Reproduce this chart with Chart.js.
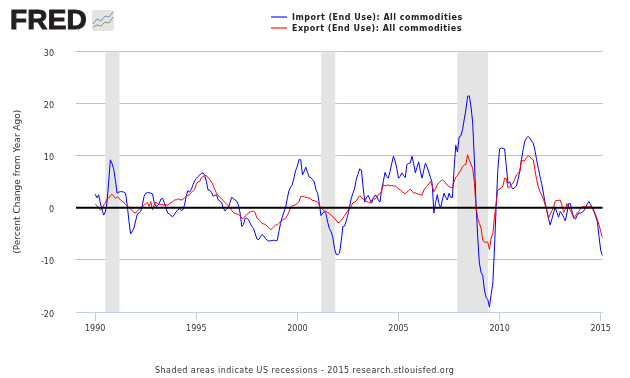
<!DOCTYPE html>
<html>
<head>
<meta charset="utf-8">
<title>FRED</title>
<script src="https://cdn.jsdelivr.net/npm/chart.js@4/dist/chart.umd.min.js"></script>
<style>
html,body{margin:0;padding:0;background:#fff}
#wrap{position:relative;width:630px;height:378px;overflow:hidden}
#logo{position:absolute;left:10px;top:3px;font:bold 28px/34px "Liberation Sans";color:#231f20;letter-spacing:.2px;-webkit-text-stroke:1px #231f20}
#icon{position:absolute;left:92px;top:10px}
#legend{position:absolute;left:271px;top:12px;font:bold 8px/11px "DejaVu Sans";color:#222;letter-spacing:.48px}
#legend div{height:11px;white-space:nowrap}
#legend i{display:inline-block;width:16px;height:2px;margin-right:5px;vertical-align:2px}
#foot{position:absolute;left:155px;top:365px;font:8px/12px "DejaVu Sans";color:#333;letter-spacing:.45px;white-space:nowrap}
</style>
</head>
<body>
<div id="wrap">
<canvas id="chart" width="630" height="378"></canvas>
<div id="logo">FRED</div>
<svg id="icon" width="22" height="21"><rect width="22" height="21" rx="2" fill="#e4e4e4"/><polyline points="1,14 5,9 9,11 13,6 17,7 21,2" fill="none" stroke="#6f9ab5" stroke-width="1"/><polyline points="1,17 5,15 9,16 13,12 17,13 21,7" fill="none" stroke="#7ea05a" stroke-width="1"/></svg>
<div id="legend"></div>
<div id="foot">Shaded areas indicate US recessions - 2015 research.stlouisfed.org</div>
</div>
<script>
// monthly, starts jan 1990
var importVals = [
2.6,1.9,2.5,1.0,-0.3,-1.4,-0.8,1.0,5.0,9.2,8.5,7.4,
5.2,2.8,3.0,3.1,3.1,3.0,2.8,0.5,-2.5,-5.0,-4.5,-3.9,
-2.5,-1.2,-1.0,-0.7,0.5,2.2,2.8,2.9,2.9,2.8,2.7,1.0,
0.3,0.4,0.8,1.7,1.8,1.0,0.0,-1.0,-1.2,-1.5,-1.7,-1.3,
-0.8,-0.4,-0.2,-0.5,-0.4,0.5,2.2,3.3,3.0,3.5,4.4,5.2,
5.6,6.0,6.3,6.6,6.7,6.2,5.0,3.4,3.4,3.0,2.2,2.4,
2.5,1.5,1.3,1.0,0.0,-0.6,-0.3,0.0,1.0,2.0,1.8,1.5,
1.3,0.5,-1.0,-3.6,-3.2,-2.0,-2.0,-2.3,-3.0,-3.6,-4.0,-5.0,
-6.0,-6.1,-5.6,-5.1,-5.4,-5.9,-6.2,-6.4,-6.3,-6.3,-6.2,-6.3,
-6.3,-4.6,-3.0,-1.8,-0.8,0.0,1.8,3.3,4.0,4.4,5.8,7.2,
8.0,9.3,9.2,6.3,7.0,7.8,6.8,5.9,5.8,5.4,5.0,3.5,
2.8,0.8,-1.5,-1.0,-0.7,-1.2,-2.8,-4.0,-4.6,-5.6,-7.8,-8.9,
-9.0,-8.7,-6.4,-3.6,-3.5,-2.5,-1.3,0.2,1.9,2.8,3.8,5.5,
6.5,7.5,7.2,4.0,1.1,2.0,2.4,1.6,0.9,1.8,2.4,2.3,
1.5,1.1,3.5,5.0,6.8,6.0,5.7,7.0,8.5,9.9,9.0,7.5,
5.7,6.0,6.7,6.2,5.8,8.3,8.5,8.6,9.9,8.5,6.7,7.8,
8.8,7.0,5.7,7.2,8.6,7.8,6.8,5.8,4.7,-1.0,1.0,2.5,
0.8,0.0,1.5,2.8,2.0,1.5,2.8,2.0,2.0,7.5,12.0,10.7,
13.6,13.8,15.0,16.9,18.8,21.4,21.5,19.5,16.5,9.5,1.0,-5.5,
-10.6,-12.4,-13.0,-15.8,-17.2,-17.6,-19.1,-16.5,-14.5,-7.5,0.5,7.5,
11.3,11.5,11.4,11.3,8.0,4.7,5.0,4.0,3.6,3.9,4.2,5.5,
7.0,9.3,11.2,12.8,13.4,13.7,13.4,12.8,12.4,11.0,9.2,7.6,
6.0,4.6,2.8,1.0,-0.4,-2.0,-3.3,-2.2,-1.0,0.0,-0.9,-1.8,
-0.7,-1.2,-1.8,-2.5,-1.0,0.8,0.8,-0.8,-1.8,-2.2,-1.5,-1.0,
-1.0,-0.9,-0.5,0.0,0.7,1.2,0.7,0.0,-0.7,-1.6,-2.6,-5.5,
-8.1,-9.2];
var exportVals = [
0.7,0.4,0.0,-0.4,-0.3,0.5,0.9,1.7,1.9,2.3,2.6,2.2,
1.8,2.1,1.9,1.5,1.3,1.0,0.6,0.4,0.1,-0.2,-0.6,-0.9,
-1.0,-0.6,-0.3,0.0,0.2,0.6,0.8,1.0,0.3,1.2,-0.4,0.5,
1.1,0.8,0.7,0.6,0.6,0.5,0.6,0.5,0.8,1.0,1.2,1.5,
1.5,1.7,1.6,1.5,1.6,1.9,2.2,2.4,2.5,2.9,3.3,3.5,
4.5,5.0,5.0,5.8,6.0,6.2,6.2,5.8,5.4,5.0,4.3,3.5,
2.8,2.4,2.0,1.7,1.4,1.0,0.7,0.4,0.0,-0.5,-0.9,-1.1,
-1.2,-1.3,-1.5,-2.0,-2.0,-1.6,-1.3,-1.0,-0.8,-0.7,-0.6,-1.0,
-2.0,-2.2,-2.6,-3.0,-3.1,-3.2,-3.5,-3.8,-4.2,-4.0,-3.6,-3.3,
-3.3,-3.0,-2.6,-2.4,-2.2,-2.0,-1.5,-0.8,0.0,0.4,0.5,0.6,
0.9,1.2,2.2,2.2,2.1,2.0,1.9,1.9,1.7,1.4,1.4,1.2,
1.1,0.5,0.0,-0.3,-0.6,-0.7,-0.9,-1.1,-1.4,-1.7,-2.0,-2.4,
-2.9,-2.7,-2.4,-2.0,-1.5,-1.0,-0.5,-0.1,0.4,1.0,1.1,1.3,
1.9,2.3,2.0,1.7,1.5,1.2,1.1,0.9,1.5,1.8,1.6,2.0,
2.5,2.7,3.2,4.4,4.2,4.3,4.4,4.2,4.3,4.2,4.2,4.0,
3.6,3.5,3.1,2.9,2.7,3.0,3.3,3.6,3.2,2.8,2.9,2.7,
2.6,2.5,2.4,3.4,3.8,4.2,4.6,5.0,4.2,3.1,3.6,4.4,
4.8,5.1,5.4,5.1,4.8,4.3,4.1,3.9,3.8,5.0,5.9,6.2,
6.7,7.2,7.9,8.2,8.3,10.2,9.2,8.4,7.6,5.0,0.2,-2.0,
-3.0,-3.9,-6.2,-6.6,-6.6,-6.6,-8.0,-5.8,-4.9,-1.7,1.0,3.5,
3.6,3.8,4.2,5.7,5.6,3.8,4.0,4.5,4.7,5.5,6.3,6.6,
7.0,9.2,9.0,9.1,9.6,10.0,9.8,9.4,9.2,7.2,5.4,4.0,
3.1,2.4,1.7,0.6,-0.6,-2.0,-1.3,-0.6,0.0,1.3,1.4,1.4,
1.5,0.5,-0.9,-0.3,0.8,0.2,-0.5,-1.2,-2.0,-1.6,-1.0,-0.7,
-0.2,0.2,0.2,0.2,0.2,0.2,0.3,0.2,-0.5,-1.3,-2.2,-3.3,
-4.5,-5.7];
var yearTicks = [1990,1995,2000,2005,2010,2015];
var yTicks = [-20,-10,0,10,20,30];
var recessions = [[1990.5,1991.2],[2001.17,2001.87],[2007.9,2009.43]];
var xRange = [1989.05,2015.1];
var zeroVals = [0,0];
var importName = "Import (End Use): All commodities";
var exportName = "Export (End Use): All commodities";
var yTitle = "(Percent Change from Year Ago)";

function toPoints(vals){
    var pts = [];
    for(var i=0;i<vals.length;i++){
        pts.push({x:1990+i/12,y:vals[i]});
    }
    return pts;
}

// grey recession bars behind the lines
var recessionBars = {
    id:'recessionBars',
    beforeDatasetsDraw:function(chart){
        var c = chart.ctx, x = chart.scales.x, a = chart.chartArea;
        c.save();
        c.fillStyle = "#e4e4e4";
        recessions.forEach(function(r){
            var x0 = x.getPixelForValue(r[0]), x1 = x.getPixelForValue(r[1]);
            c.fillRect(x0,a.top,x1-x0,a.bottom-a.top);
        });
        c.restore();
    }
};

var tickFont = {family:"DejaVu Sans",size:8};

new Chart(document.getElementById("chart"),{
    type:'line',
    plugins:[recessionBars],
    data:{
        datasets:[
            {label:"zero",data:[{x:xRange[0],y:zeroVals[0]},{x:xRange[1],y:zeroVals[1]}],borderColor:"#000",borderWidth:2,pointRadius:0,order:0},
            {label:exportName,data:toPoints(exportVals),borderColor:"#ff0000",borderWidth:1,pointRadius:0,order:1},
            {label:importName,data:toPoints(importVals),borderColor:"#0000ff",borderWidth:1,pointRadius:0,order:2}
        ]
    },
    options:{
        responsive:false,
        animation:false,
        layout:{padding:{top:51.5,right:27.3,left:0,bottom:0}},
        plugins:{legend:{display:false},tooltip:{enabled:false}},
        scales:{
            x:{
                type:'linear',
                min:xRange[0],max:xRange[1],bounds:'data',
                afterFit:function(s){s.height=66;},
                afterBuildTicks:function(s){s.ticks=yearTicks.map(function(v){return {value:v};});},
                grid:{drawOnChartArea:false,color:"#c0d0e0",tickLength:9},
                border:{color:"#c0d0e0"},
                ticks:{color:"#333",font:tickFont,padding:3,maxRotation:0,autoSkip:false,callback:function(v){return String(v);}}
            },
            y:{
                min:-20,max:30,
                afterFit:function(s){s.width=76;},
                afterBuildTicks:function(s){s.ticks=yTicks.map(function(v){return {value:v};});},
                grid:{color:"#c0c0c0",drawTicks:false},
                border:{display:false},
                ticks:{color:"#333",font:tickFont,padding:22,labelOffset:2.5},
                title:{display:true,text:yTitle,color:"#333",font:{family:"DejaVu Sans",size:9},padding:{top:12,bottom:0}}
            }
        }
    }
});

// legend box, two rows like the original
var rows = [[importName,"#7777ff"],[exportName,"#ff7777"]];
document.getElementById("legend").innerHTML = rows.map(function(r){
    return '<div><i style="background:'+r[1]+'"></i>'+r[0]+'</div>';
}).join("");
</script>
</body>
</html>
